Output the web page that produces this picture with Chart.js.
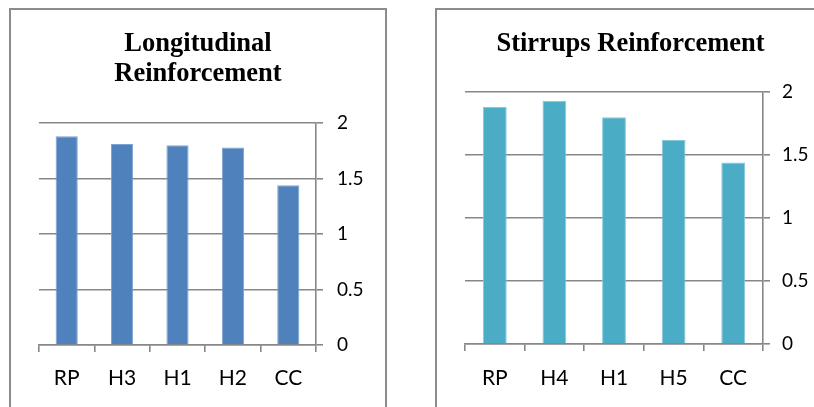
<!DOCTYPE html>
<html>
<head>
<meta charset="utf-8">
<script src="https://cdn.jsdelivr.net/npm/chart.js@4/dist/chart.umd.min.js"></script>
<style>
  html, body { margin: 0; padding: 0; background: #fff; }
  body { width: 814px; height: 407px; position: relative; overflow: hidden; }
  .panel { position: absolute; border: 2px solid #8c8c8c; box-sizing: border-box; background: #fff; }
  #p1 { left: 9px; top: 8px; width: 378px; height: 420px; }
  #p2 { left: 435px; top: 8px; width: 420px; height: 420px; }
  canvas { position: absolute; top: 0; }
  #c1 { left: 0; }
  #c2 { left: 414px; }
</style>
</head>
<body>
<div class="panel" id="p1"></div>
<div class="panel" id="p2"></div>
<canvas id="c1" width="400" height="407"></canvas>
<canvas id="c2" width="400" height="407"></canvas>
<script>
// Longitudinal reinforcement ratios
const longCategories = ['RP', 'H3', 'H1', 'H2', 'CC'];
const longValues = [1.88, 1.81, 1.80, 1.78, 1.44];

// Stirrups reinforcement ratios
const stirCategories = ['RP', 'H4', 'H1', 'H5', 'CC'];
const stirValues = [1.88, 1.93, 1.80, 1.62, 1.44];

// Shared value axis
const yTickValues = [0, 0.5, 1, 1.5, 2];
const yTickLabels = ['0', '0.5', '1', '1.5', '2'];

const GRID = '#878787';
const LINE_W = 1.6;

function buildChart(canvasId, title, categories, values, fill, edge, geo) {
  return new Chart(document.getElementById(canvasId), {
    type: 'bar',
    data: {
      labels: categories,
      datasets: [{
        data: values,
        backgroundColor: fill,
        borderColor: edge,
        borderWidth: 1,
        categoryPercentage: 1,
        barPercentage: 0.4
      }]
    },
    options: {
      responsive: false,
      animation: false,
      layout: { padding: { left: geo.padL, right: geo.padR, top: 0, bottom: 0 } },
      plugins: {
        legend: { display: false },
        tooltip: { enabled: false },
        title: {
          display: true,
          text: title,
          color: '#000',
          font: { family: '"Liberation Serif", "Times New Roman", serif', weight: 'bold', size: 26.5, lineHeight: 30 / 26.5 },
          padding: { top: geo.titleTop, bottom: geo.titleBottom }
        }
      },
      scales: {
        x: {
          grid: { display: true, drawOnChartArea: false, drawTicks: true, tickLength: 7, color: GRID, lineWidth: LINE_W },
          border: { display: true, color: GRID, width: LINE_W },
          ticks: { color: '#000', font: { family: 'Lato, sans-serif', size: 21 }, padding: geo.xPad, maxRotation: 0 },
          afterFit: s => { s.height = geo.xH; }
        },
        y: {
          position: 'right',
          min: 0,
          max: 2,
          afterBuildTicks: s => { s.ticks = yTickValues.map(v => ({ value: v })); },
          grid: { color: GRID, lineWidth: LINE_W, drawTicks: true, tickLength: 7 },
          border: { display: true, color: GRID, width: LINE_W },
          ticks: {
            color: '#000',
            font: { family: 'Lato, sans-serif', size: 19 },
            padding: geo.yPad,
            callback: (v, i) => yTickLabels[i]
          },
          afterFit: s => { s.width = geo.yW; }
        },
        // empty left margin strip, keeps the plot inset from the panel edge
        gutter: {
          type: 'linear',
          position: 'left',
          grid: { display: false },
          border: { display: false },
          ticks: { display: false },
          afterFit: s => { s.width = geo.gutter; }
        }
      }
    }
  });
}

buildChart('c1', ['Longitudinal', 'Reinforcement'], longCategories, longValues,
  '#4f81bd', '#7fa2d2',
  { padL: 0, gutter: 39, padR: 4, yW: 80, titleTop: 29.4, titleBottom: 33.6, xH: 62, xPad: 14, yPad: 14 });

buildChart('c2', 'Stirrups Reinforcement', stirCategories, stirValues,
  '#4bacc6', '#86c9da',
  { padL: 33, gutter: 18, padR: 0, yW: 51, titleTop: 29.4, titleBottom: 32.6, xH: 63, xPad: 15, yPad: 12 });
</script>
</body>
</html>
